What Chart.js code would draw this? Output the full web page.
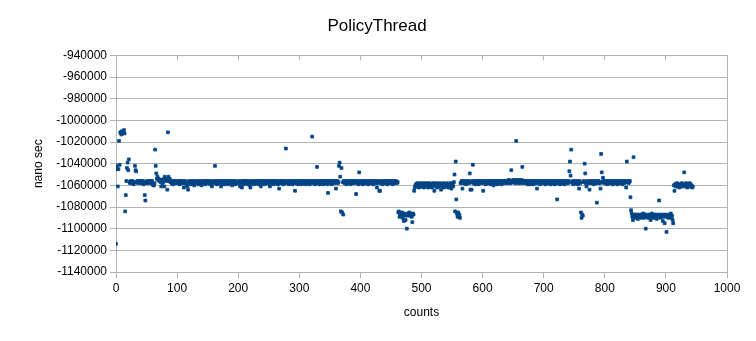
<!DOCTYPE html>
<html>
<head>
<meta charset="utf-8">
<title>PolicyThread</title>
<script src="https://cdn.jsdelivr.net/npm/chart.js@4"></script>
<style>
  html, body { margin: 0; padding: 0; background: #fff; }
</style>
</head>
<body>
<canvas id="chart" width="756" height="341"></canvas>
<script>
// One value per count, in microseconds (x1000 = nano sec)
const us000 = [
  -1114,-1042,-1045,-1061,-1045,-1019,-1041,-1011,-1012,-1013,
  -1010,-1012,-1011,-1009,-1012,-1084,-1069,-1056,-1044,-1039,
  -1046,-1036,-1057,-1058,-1056,-1057,-1058,-1056,-1057,-1059,
  -1057,-1042,-1046,-1047,-1057,-1056,-1058,-1057,-1056,-1057,
  -1058,-1056,-1057,-1058,-1056,-1059,-1057,-1069,-1074,-1058,
  -1057,-1056,-1058,-1057,-1056,-1057,-1058,-1056,-1057,-1056,
  -1059,-1060,-1060,-1058,-1027,-1042,-1049,-1054,-1052,-1055,
  -1054,-1056,-1055,-1057,-1061,-1055,-1058,-1057,-1054,-1061,
  -1052,-1054,-1056,-1055,-1064,-1011,-1052,-1056,-1054,-1057,
  -1056,-1058,-1057,-1059,-1056,-1058,-1057,-1056,-1058,-1057
];
const us100 = [
  -1057,-1056,-1058,-1057,-1059,-1056,-1057,-1058,-1056,-1057,
  -1058,-1062,-1057,-1056,-1058,-1057,-1060,-1061,-1064,-1057,
  -1056,-1058,-1057,-1059,-1056,-1057,-1058,-1056,-1060,-1057,
  -1058,-1057,-1056,-1058,-1057,-1059,-1056,-1057,-1058,-1057,
  -1060,-1056,-1057,-1058,-1056,-1057,-1059,-1057,-1056,-1058,
  -1057,-1056,-1058,-1057,-1059,-1056,-1057,-1061,-1058,-1057,
  -1056,-1058,-1042,-1057,-1056,-1059,-1057,-1058,-1056,-1057,
  -1058,-1056,-1061,-1057,-1058,-1056,-1057,-1059,-1057,-1056,
  -1058,-1057,-1056,-1059,-1057,-1058,-1056,-1057,-1058,-1056,
  -1060,-1057,-1056,-1058,-1057,-1059,-1056,-1057,-1058,-1057
];
const us200 = [
  -1057,-1058,-1056,-1061,-1057,-1058,-1062,-1056,-1057,-1059,
  -1056,-1058,-1057,-1056,-1058,-1057,-1059,-1056,-1057,-1060,
  -1062,-1057,-1056,-1058,-1057,-1056,-1059,-1057,-1058,-1056,
  -1057,-1058,-1056,-1059,-1057,-1056,-1058,-1061,-1057,-1056,
  -1058,-1057,-1056,-1059,-1057,-1058,-1056,-1057,-1058,-1056,
  -1057,-1059,-1061,-1057,-1056,-1058,-1057,-1056,-1059,-1057,
  -1058,-1056,-1057,-1058,-1056,-1059,-1057,-1063,-1058,-1056,
  -1057,-1058,-1056,-1057,-1059,-1056,-1058,-1057,-1026,-1057,
  -1056,-1058,-1057,-1059,-1056,-1057,-1058,-1056,-1057,-1059,
  -1057,-1056,-1058,-1065,-1057,-1056,-1058,-1057,-1059,-1056
];
const us300 = [
  -1057,-1058,-1056,-1057,-1059,-1056,-1058,-1057,-1056,-1058,
  -1057,-1059,-1056,-1057,-1058,-1056,-1057,-1059,-1057,-1056,
  -1058,-1015,-1057,-1056,-1058,-1057,-1059,-1056,-1057,-1043,
  -1058,-1056,-1057,-1059,-1057,-1056,-1058,-1057,-1056,-1059,
  -1057,-1058,-1056,-1057,-1058,-1056,-1059,-1067,-1057,-1056,
  -1058,-1057,-1056,-1059,-1057,-1058,-1056,-1057,-1058,-1056,
  -1063,-1057,-1056,-1058,-1057,-1042,-1039,-1052,-1084,-1044,
  -1085,-1057,-1087,-1056,-1058,-1057,-1056,-1059,-1057,-1058,
  -1056,-1057,-1058,-1056,-1059,-1057,-1056,-1058,-1057,-1056,
  -1058,-1057,-1056,-1068,-1057,-1058,-1056,-1059,-1048,-1057
];
const us400 = [
  -1057,-1056,-1058,-1057,-1059,-1056,-1057,-1058,-1056,-1057,
  -1058,-1056,-1057,-1059,-1057,-1056,-1058,-1057,-1056,-1058,
  -1057,-1059,-1056,-1057,-1058,-1056,-1057,-1062,-1058,-1056,
  -1057,-1065,-1065,-1058,-1056,-1057,-1059,-1057,-1056,-1058,
  -1057,-1056,-1058,-1057,-1059,-1056,-1057,-1058,-1056,-1057,
  -1058,-1056,-1057,-1059,-1057,-1056,-1058,-1057,-1056,-1057,
  -1058,-1057,-1085,-1084,-1089,-1087,-1086,-1088,-1085,-1090,
  -1087,-1093,-1086,-1088,-1092,-1087,-1100,-1088,-1086,-1087,
  -1085,-1088,-1086,-1087,-1089,-1094,-1086,-1087,-1065,-1062,
  -1060,-1059,-1061,-1058,-1060,-1059,-1062,-1060,-1058,-1061
];
const us500 = [
  -1059,-1061,-1060,-1058,-1062,-1059,-1060,-1061,-1058,-1060,
  -1059,-1062,-1060,-1058,-1061,-1059,-1060,-1062,-1059,-1058,
  -1060,-1065,-1059,-1061,-1058,-1060,-1062,-1059,-1061,-1060,
  -1058,-1060,-1064,-1059,-1061,-1060,-1058,-1062,-1059,-1060,
  -1061,-1059,-1058,-1060,-1062,-1059,-1061,-1060,-1058,-1063,
  -1060,-1059,-1061,-1057,-1050,-1084,-1038,-1073,-1086,-1089,
  -1085,-1088,-1087,-1090,-1058,-1057,-1056,-1063,-1058,-1057,
  -1056,-1058,-1057,-1059,-1056,-1058,-1057,-1056,-1058,-1049,
  -1064,-1057,-1064,-1056,-1041,-1058,-1057,-1056,-1059,-1057,
  -1058,-1056,-1057,-1059,-1056,-1058,-1057,-1056,-1058,-1057
];
const us600 = [
  -1056,-1065,-1058,-1057,-1056,-1059,-1057,-1058,-1056,-1057,
  -1058,-1057,-1056,-1059,-1057,-1056,-1058,-1057,-1060,-1056,
  -1057,-1058,-1056,-1057,-1059,-1056,-1058,-1057,-1056,-1058,
  -1057,-1059,-1056,-1057,-1058,-1056,-1057,-1056,-1058,-1056,
  -1057,-1056,-1058,-1055,-1057,-1056,-1058,-1046,-1056,-1057,
  -1055,-1057,-1056,-1058,-1055,-1019,-1057,-1056,-1058,-1055,
  -1057,-1056,-1058,-1057,-1055,-1043,-1057,-1058,-1056,-1057,
  -1056,-1058,-1057,-1056,-1059,-1058,-1057,-1056,-1059,-1057,
  -1058,-1056,-1057,-1059,-1056,-1058,-1057,-1056,-1058,-1063,
  -1057,-1056,-1058,-1057,-1059,-1056,-1057,-1058,-1056,-1057
];
const us700 = [
  -1058,-1056,-1057,-1059,-1056,-1058,-1057,-1056,-1058,-1057,
  -1056,-1059,-1057,-1058,-1056,-1057,-1058,-1056,-1059,-1057,
  -1058,-1056,-1073,-1057,-1058,-1056,-1057,-1059,-1056,-1058,
  -1057,-1056,-1058,-1057,-1059,-1056,-1057,-1058,-1056,-1057,
  -1058,-1056,-1047,-1038,-1051,-1027,-1057,-1058,-1056,-1059,
  -1057,-1058,-1056,-1057,-1058,-1056,-1059,-1057,-1063,-1056,
  -1058,-1085,-1090,-1087,-1088,-1057,-1056,-1040,-1049,-1058,
  -1061,-1057,-1056,-1058,-1057,-1064,-1056,-1058,-1057,-1056,
  -1058,-1057,-1059,-1056,-1057,-1058,-1056,-1076,-1057,-1058,
  -1056,-1057,-1058,-1063,-1031,-1048,-1057,-1053,-1056,-1058
];
const us800 = [
  -1057,-1056,-1058,-1057,-1059,-1056,-1057,-1058,-1056,-1057,
  -1058,-1056,-1057,-1059,-1057,-1056,-1058,-1057,-1056,-1058,
  -1057,-1059,-1056,-1057,-1058,-1056,-1057,-1058,-1056,-1059,
  -1057,-1056,-1058,-1057,-1056,-1062,-1038,-1057,-1056,-1058,
  -1057,-1056,-1071,-1083,-1086,-1089,-1092,-1034,-1088,-1087,
  -1089,-1090,-1087,-1088,-1091,-1088,-1087,-1089,-1088,-1090,
  -1087,-1089,-1088,-1086,-1090,-1088,-1087,-1100,-1089,-1088,
  -1087,-1090,-1088,-1089,-1087,-1092,-1088,-1086,-1089,-1088,
  -1090,-1087,-1088,-1089,-1087,-1091,-1088,-1089,-1087,-1074,
  -1088,-1090,-1087,-1089,-1088,-1093,-1087,-1089,-1095,-1088
];
const us900 = [
  -1087,-1103,-1089,-1088,-1090,-1087,-1089,-1088,-1086,-1090,
  -1088,-1092,-1095,-1060,-1065,-1059,-1061,-1060,-1058,-1061,
  -1059,-1060,-1062,-1059,-1061,-1060,-1058,-1061,-1059,-1060,
  -1048,-1061,-1059,-1058,-1060,-1062,-1059,-1061,-1060,-1058,
  -1059,-1061,-1060,-1062,-1061
];

// axis ranges
const yMin = -1140000, yMax = -940000, yStep = 20000;
const xMin = 0, xMax = 1000, xStep = 100;

const nanoSec = [].concat(us000, us100, us200, us300, us400, us500, us600, us700, us800, us900)
  .map(v => v * 1000);
const points = nanoSec.map((y, i) => ({ x: i, y: y }));

const gridGray = '#b3b3b3';
const font = { family: '"Liberation Sans", Arial, sans-serif', size: 12 };

new Chart(document.getElementById('chart'), {
  type: 'scatter',
  data: {
    datasets: [{
      label: 'PolicyThread',
      data: points,
      pointStyle: 'rect',
      pointRadius: 2,
      borderWidth: 0.8,
      backgroundColor: '#004586',
      borderColor: '#004586'
    }]
  },
  options: {
    responsive: false,
    animation: false,
    events: [],
    layout: { padding: { left: 27, right: 29, top: 0, bottom: 17 } },
    plugins: {
      legend: { display: false },
      tooltip: { enabled: false },
      title: {
        display: true,
        text: 'PolicyThread',
        color: '#000',
        font: { family: font.family, size: 17, weight: 'normal' },
        padding: { top: 16, bottom: 19 }
      }
    },
    scales: {
      x: {
        type: 'linear',
        position: 'bottom',
        min: xMin,
        max: xMax,
        afterFit(scale) { scale.height = 52; },
        ticks: { stepSize: xStep, color: '#000', font: font, padding: 3, maxRotation: 0, autoSkip: false, callback: v => String(v) },
        grid: {
          color: c => (c.tick && c.tick.value === xMax) ? gridGray : 'rgba(0,0,0,0)',
          tickColor: gridGray,
          tickLength: 6
        },
        border: { color: gridGray },
        title: { display: true, text: 'counts', color: '#000', font: font, padding: { top: 4, bottom: 4 } }
      },
      xTop: {
        type: 'linear',
        position: 'top',
        min: xMin,
        max: xMax,
        afterFit(scale) { scale.height = 0; },
        ticks: { stepSize: xStep, display: false },
        grid: { drawOnChartArea: false, tickColor: gridGray, tickLength: -5 },
        border: { display: false }
      },
      y: {
        type: 'linear',
        min: yMin,
        max: yMax,
        afterFit(scale) { scale.width = 89; },
        ticks: { stepSize: yStep, color: '#000', font: font, padding: 3, callback: v => String(v) },
        grid: { color: gridGray, tickColor: gridGray, tickLength: 6 },
        border: { color: gridGray },
        title: { display: true, text: 'nano sec', color: '#000', font: font, padding: { top: 4, bottom: 4 } }
      }
    }
  }
});
</script>
</body>
</html>
